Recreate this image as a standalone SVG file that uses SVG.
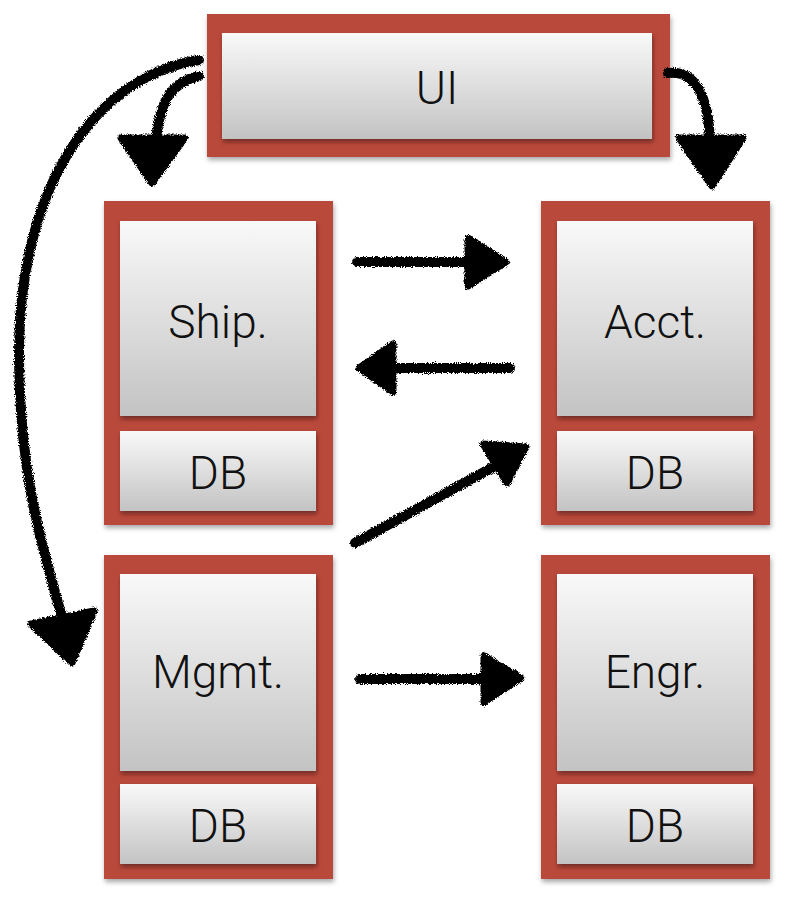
<svg xmlns="http://www.w3.org/2000/svg" width="789" height="900" viewBox="0 0 789 900">
<defs>
  <linearGradient id="g" x1="0" y1="0" x2="0" y2="1">
    <stop offset="0" stop-color="#f9f9f9"/>
    <stop offset="1" stop-color="#c3c3c3"/>
  </linearGradient>
  <filter id="outerShadow" x="-10%" y="-10%" width="120%" height="120%">
    <feDropShadow dx="1" dy="3" stdDeviation="2.5" flood-color="#000" flood-opacity="0.35"/>
  </filter>
  <filter id="innerShadow" x="-10%" y="-10%" width="120%" height="125%">
    <feDropShadow dx="1" dy="3" stdDeviation="2" flood-color="#3a0f08" flood-opacity="0.55"/>
  </filter>
  <filter id="rough" x="-20%" y="-20%" width="140%" height="140%">
    <feTurbulence type="fractalNoise" baseFrequency="1.1" numOctaves="2" seed="7" result="t"/>
    <feDisplacementMap in="SourceGraphic" in2="t" scale="5" xChannelSelector="R" yChannelSelector="G"/>
  </filter>
  <style>
    .outer { fill: #b8493b; }
    .inner { fill: url(#g); }
    .lbl { font-family: Roboto, "Liberation Sans", sans-serif; font-weight: 300; font-size: 46px; fill: #111; text-anchor: middle; }
    .shaft { fill: none; stroke: #000; stroke-width: 10; stroke-linecap: round; }
    .head { fill: #000; stroke: #000; stroke-width: 7; stroke-linejoin: round; }
  </style>
</defs>
<rect width="789" height="900" fill="#fff"/>

<g id="ui">
  <rect class="outer" x="207" y="14" width="463" height="143" filter="url(#outerShadow)"/>
  <rect class="inner" x="222" y="33" width="430" height="106" filter="url(#innerShadow)"/>
  <text class="lbl" x="437" y="104">UI</text>
</g>

<g id="ship">
  <rect class="outer" x="104" y="201" width="229" height="324" filter="url(#outerShadow)"/>
  <rect class="inner" x="120" y="221" width="196" height="195" filter="url(#innerShadow)"/>
  <rect class="inner" x="120" y="431" width="196" height="80" filter="url(#innerShadow)"/>
  <text class="lbl" x="218" y="338">Ship.</text>
  <text class="lbl" x="218" y="489">DB</text>
</g>

<g id="acct">
  <rect class="outer" x="541" y="201" width="229" height="324" filter="url(#outerShadow)"/>
  <rect class="inner" x="557" y="221" width="196" height="195" filter="url(#innerShadow)"/>
  <rect class="inner" x="557" y="431" width="196" height="80" filter="url(#innerShadow)"/>
  <text class="lbl" x="655" y="338">Acct.</text>
  <text class="lbl" x="655" y="489">DB</text>
</g>

<g id="mgmt">
  <rect class="outer" x="104" y="555" width="229" height="324" filter="url(#outerShadow)"/>
  <rect class="inner" x="120" y="574" width="196" height="197" filter="url(#innerShadow)"/>
  <rect class="inner" x="120" y="784" width="196" height="80" filter="url(#innerShadow)"/>
  <text class="lbl" x="218" y="688">Mgmt.</text>
  <text class="lbl" x="218" y="842">DB</text>
</g>

<g id="engr">
  <rect class="outer" x="541" y="555" width="229" height="324" filter="url(#outerShadow)"/>
  <rect class="inner" x="557" y="574" width="196" height="197" filter="url(#innerShadow)"/>
  <rect class="inner" x="557" y="784" width="196" height="80" filter="url(#innerShadow)"/>
  <text class="lbl" x="655" y="688">Engr.</text>
  <text class="lbl" x="655" y="842">DB</text>
</g>

<g id="connectors" filter="url(#rough)">
  <!-- UI -> Ship -->
  <path class="shaft" d="M 199 76 C 172 82, 160 100, 156 140"/>
  <polygon class="head" points="121,138 185,138 152,183"/>
  <!-- UI -> Mgmt -->
  <path class="shaft" d="M 199 60 C 100 75, 20 180, 19 350 C 19 470, 40 540, 62 617"/>
  <polygon class="head" points="31,624 94,611 72,663"/>
  <!-- UI -> Acct -->
  <path class="shaft" d="M 668 73 C 695 70, 708 95, 710 140"/>
  <polygon class="head" points="679,138 743,138 712,186"/>
  <!-- Ship -> Acct -->
  <path class="shaft" d="M 357 262 L 470 262"/>
  <polygon class="head" points="468,238 468,286 506,262"/>
  <!-- Acct -> Ship -->
  <path class="shaft" d="M 510 368 L 395 368"/>
  <polygon class="head" points="393,344 393,392 359,368"/>
  <!-- Mgmt -> Acct -->
  <path class="shaft" d="M 355 543 L 497 465"/>
  <polygon class="head" points="483,444 526,447 507,483"/>
  <!-- Mgmt -> Engr -->
  <path class="shaft" d="M 360 679 L 485 679"/>
  <polygon class="head" points="484,656 484,702 521,678"/>
</g>
</svg>
